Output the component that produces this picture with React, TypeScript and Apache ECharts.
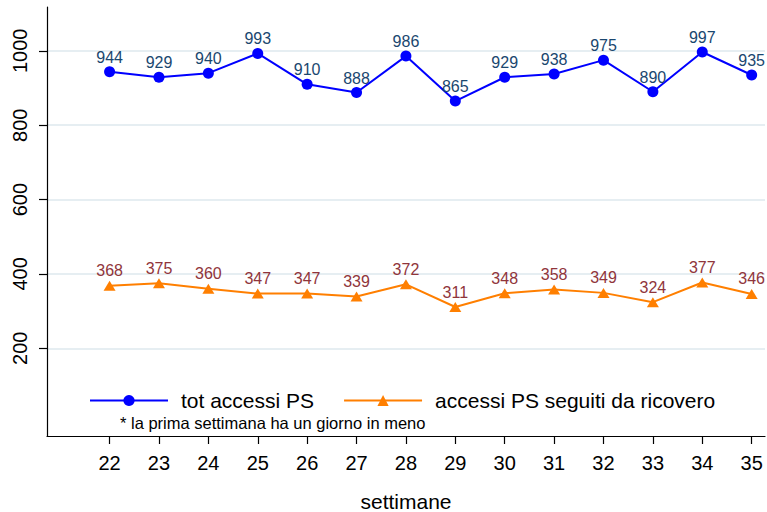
import React, { useEffect, useRef } from "react";
import * as echarts from "echarts";

const weeks = [22, 23, 24, 25, 26, 27, 28, 29, 30, 31, 32, 33, 34, 35];
const totAccessi = [944, 929, 940, 993, 910, 888, 986, 865, 929, 938, 975, 890, 997, 935];
const accessiRicovero = [368, 375, 360, 347, 347, 339, 372, 311, 348, 358, 349, 324, 377, 346];
const yTicks = [200, 400, 600, 800, 1000];
const seriesNames = ["tot accessi PS", "accessi PS seguiti da ricovero"];
const note = "* la prima settimana ha un giorno in meno";
const xTitle = "settimane";

const FONT = "'Liberation Sans', Arial, Helvetica, sans-serif";

export default function App() {
  const ref = useRef<HTMLDivElement>(null);
  useEffect(() => {
    if (!ref.current) return;
    const chart = echarts.init(ref.current, undefined, { renderer: "svg" });
    const blueData = weeks.map((w, i) => [w, totAccessi[i]]);
    const orangeData = weeks.map((w, i) => [w, accessiRicovero[i]]);
    chart.setOption({
      animation: false,
      backgroundColor: "#ffffff",
      textStyle: { fontFamily: FONT },
      grid: {
        left: 47,
        right: 2,
        top: 7,
        bottom: 76,
        containLabel: false,
        outerBoundsMode: "none",
      },
      xAxis: {
        type: "value",
        min: 20.733,
        max: 35.27,
        name: xTitle,
        nameLocation: "middle",
        nameGap: 57,
        nameTextStyle: { fontSize: 21, lineHeight: 17, color: "#000", fontFamily: FONT },
        axisLine: { show: true, onZero: false, lineStyle: { color: "#000", width: 1.2 } },
        axisTick: { show: true, length: 8, customValues: weeks, lineStyle: { color: "#000", width: 1.2 } },
        axisLabel: {
          customValues: weeks,
          fontSize: 20,
          color: "#000",
          margin: 17,
          fontFamily: FONT,
          formatter: (v: number) => String(v),
        },
        splitLine: { show: false },
      },
      yAxis: {
        type: "value",
        min: -36,
        max: 1118,
        axisLine: { show: true, onZero: false, lineStyle: { color: "#000", width: 1.2 } },
        axisTick: { show: true, length: 8, customValues: yTicks, lineStyle: { color: "#000", width: 1.2 } },
        axisLabel: {
          customValues: yTicks,
          fontSize: 20,
          color: "#000",
          rotate: 90,
          margin: 17,
          fontFamily: FONT,
          formatter: (v: number) => String(v),
        },
        splitLine: { show: true, lineStyle: { color: "#e6eef2", width: 2 } },
      },
      legend: {
        show: true,
        left: 89,
        top: 390,
        padding: 0,
        itemWidth: 78,
        itemHeight: 14,
        itemGap: 29,
        textStyle: { fontSize: 21, color: "#000", fontFamily: FONT, padding: [0, 0, 0, 8] },
        data: seriesNames,
      },
      graphic: [
        {
          type: "text",
          left: 120,
          top: 414,
          style: { text: note, fontSize: 16.5, fill: "#000", fontFamily: FONT },
        },
      ],
      series: [
        {
          name: seriesNames[0],
          type: "line",
          data: blueData,
          symbol: "circle",
          symbolSize: 11,
          lineStyle: { color: "#0000ff", width: 2 },
          itemStyle: { color: "#0000ff" },
          label: {
            show: true,
            position: "top",
            distance: 1,
            fontSize: 16,
            color: "#1a476f",
            fontFamily: FONT,
          },
        },
        {
          name: seriesNames[1],
          type: "line",
          data: orangeData,
          symbol: "triangle",
          symbolSize: [12, 10],
          lineStyle: { color: "#ff7f00", width: 2 },
          itemStyle: { color: "#ff7f00" },
          label: {
            show: true,
            position: "top",
            distance: 2,
            fontSize: 16,
            color: "#90353b",
            fontFamily: FONT,
          },
        },
      ],
    });
    return () => chart.dispose();
  }, []);
  return (
    <div
      ref={ref}
      style={{ position: "absolute", left: 0, top: 0, width: 767, height: 512 }}
    />
  );
}
